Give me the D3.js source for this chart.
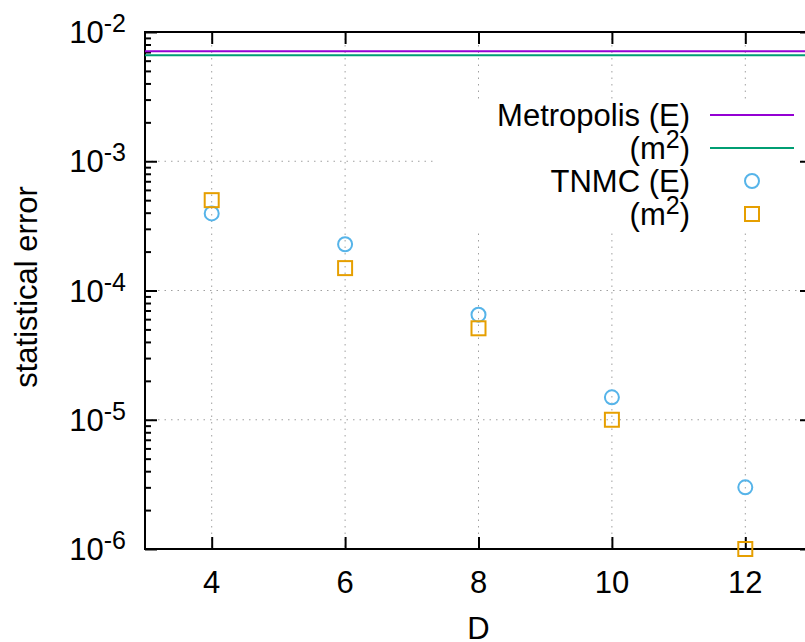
<!DOCTYPE html>
<html>
<head>
<meta charset="utf-8">
<script src="https://cdn.jsdelivr.net/npm/d3@7"></script>
<style>
  html, body { margin: 0; padding: 0; background: #fff; }
  svg { display: block; font-family: "Liberation Sans", Arial, Helvetica, sans-serif; }
</style>
</head>
<body>
<div id="grafico"></div>
<script>
// datos
const dims = [4, 6, 8, 10, 12];
const tnmcE = [3.95e-4, 2.28e-4, 6.5e-5, 1.49e-5, 3.0e-6];
const tnmcM2 = [5.0e-4, 1.49e-4, 5.1e-5, 1.0e-5, 1.0e-6];
const metropolisE = 7.1e-3;
const metropolisM2 = 6.6e-3;
const xTicks = [4, 6, 8, 10, 12];
const yExps = [-2, -3, -4, -5, -6];

const width = 805;
const height = 642;
const mLeft = 145, mRight = 812, mTop = 32, mBottom = 549;
const fs = "31px", fsSup = "25px";

const svg = d3.select("#grafico")
  .append("svg")
  .attr("width", width)
  .attr("height", height);

const x = d3.scaleLinear().domain([3, 13]).range([mLeft, mRight]);
const y = d3.scaleLog().domain([1e-6, 1e-2]).range([mBottom, mTop]);

// grid punteado
const grid = svg.append("g")
  .attr("stroke", "#a0a0a0")
  .attr("stroke-width", 1)
  .attr("stroke-dasharray", "1.5,5");
grid.selectAll("line.gx")
  .data(xTicks)
  .join("line")
  .attr("class", "gx")
  .attr("x1", d => x(d)).attr("x2", d => x(d))
  .attr("y1", mTop).attr("y2", mBottom);
grid.selectAll("line.gy")
  .data(yExps.slice(1, -1))
  .join("line")
  .attr("class", "gy")
  .attr("x1", mLeft).attr("x2", mRight)
  .attr("y1", d => y(Math.pow(10, d))).attr("y2", d => y(Math.pow(10, d)));

// ejes con ticks hacia dentro
const minor = [];
for (let e = -6; e < -2; e++) {
  for (let k = 2; k <= 9; k++) minor.push(k * Math.pow(10, e));
}
const majorY = yExps.map(e => Math.pow(10, e));

const axes = svg.append("g");
axes.append("g")
  .attr("transform", `translate(0,${mBottom})`)
  .call(d3.axisBottom(x).tickValues(xTicks).tickSizeInner(-12).tickSizeOuter(0).tickFormat(""));
axes.append("g")
  .attr("transform", `translate(0,${mTop})`)
  .call(d3.axisTop(x).tickValues(xTicks).tickSizeInner(-12).tickSizeOuter(0).tickFormat(""));
axes.append("g")
  .attr("transform", `translate(${mLeft},0)`)
  .call(d3.axisLeft(y).tickValues(majorY).tickSizeInner(-12).tickSizeOuter(0).tickFormat(""));
axes.append("g")
  .attr("transform", `translate(${mLeft},0)`)
  .call(d3.axisLeft(y).tickValues(minor).tickSizeInner(-6).tickSizeOuter(0).tickFormat(""));
axes.append("g")
  .attr("transform", `translate(${mRight},0)`)
  .call(d3.axisRight(y).tickValues(majorY).tickSizeInner(-12).tickSizeOuter(0).tickFormat(""));
axes.append("g")
  .attr("transform", `translate(${mRight},0)`)
  .call(d3.axisRight(y).tickValues(minor).tickSizeInner(-6).tickSizeOuter(0).tickFormat(""));
axes.selectAll(".domain").remove();
axes.selectAll("line").attr("stroke", "#000").attr("stroke-width", 2);

// marco
svg.append("rect")
  .attr("x", mLeft).attr("y", mTop)
  .attr("width", mRight - mLeft).attr("height", mBottom - mTop)
  .attr("fill", "none")
  .attr("stroke", "#000")
  .attr("stroke-width", 2);

// etiquetas eje x
svg.append("g")
  .selectAll("text")
  .data(xTicks)
  .join("text")
  .attr("x", d => x(d))
  .attr("y", mBottom + 44)
  .attr("text-anchor", "middle")
  .style("font-size", fs)
  .text(d => d);

// etiquetas eje y: 10^e
const yl = svg.append("g")
  .selectAll("text")
  .data(yExps)
  .join("text")
  .attr("x", 126)
  .attr("y", d => y(Math.pow(10, d)) + 11)
  .attr("text-anchor", "end")
  .style("font-size", fs);
yl.append("tspan").text("10");
yl.append("tspan")
  .attr("dy", -11)
  .style("font-size", fsSup)
  .text(d => d);

svg.append("text")
  .attr("transform", `translate(37,287) rotate(-90)`)
  .attr("text-anchor", "middle")
  .style("font-size", fs)
  .text("statistical error");

svg.append("text")
  .attr("x", x(8))
  .attr("y", 639)
  .attr("text-anchor", "middle")
  .style("font-size", fs)
  .text("D");

// lineas Metropolis
const series = [
  { val: metropolisE, color: "#9400d3" },
  { val: metropolisM2, color: "#009e73" }
];
svg.append("g")
  .selectAll("line")
  .data(series)
  .join("line")
  .attr("x1", mLeft).attr("x2", mRight)
  .attr("y1", d => y(d.val)).attr("y2", d => y(d.val))
  .attr("stroke", d => d.color)
  .attr("stroke-width", 2);

// leyenda (caja opaca)
svg.append("rect")
  .attr("x", 437).attr("y", 99)
  .attr("width", mRight - 437 - 14).attr("height", 133)
  .attr("fill", "#fff");

const leyendas = [
  { texto: "Metropolis (E)", tipo: "line", color: "#9400d3" },
  { texto: "(m", sup: "2", tipo: "line", color: "#009e73" },
  { texto: "TNMC (E)", tipo: "circle", color: "#56b4e9" },
  { texto: "(m", sup: "2", tipo: "square", color: "#e69f00" }
];
const leyenda = svg.append("g");
leyenda.selectAll("g")
  .data(leyendas)
  .join("g")
  .attr("transform", (d, i) => `translate(0, ${115 + i * 33})`)
  .each(function (d) {
    const g = d3.select(this);
    const t = g.append("text")
      .attr("x", 690)
      .attr("y", 11)
      .attr("text-anchor", "end")
      .style("font-size", fs);
    t.append("tspan").text(d.texto);
    if (d.sup) {
      t.append("tspan").attr("dy", -11).style("font-size", fsSup).text(d.sup);
      t.append("tspan").attr("dy", 11).text(")");
    }
    if (d.tipo === "line") {
      g.append("line")
        .attr("x1", 710).attr("x2", 794)
        .attr("stroke", d.color).attr("stroke-width", 2);
    } else if (d.tipo === "circle") {
      g.append("circle")
        .attr("cx", 752).attr("r", 7)
        .attr("fill", "none").attr("stroke", d.color).attr("stroke-width", 2);
    } else {
      g.append("rect")
        .attr("x", 745).attr("y", -7).attr("width", 14).attr("height", 14)
        .attr("fill", "none").attr("stroke", d.color).attr("stroke-width", 2);
    }
  });

// puntos TNMC
const puntos = svg.append("g");
puntos.selectAll("circle")
  .data(dims.map((d, i) => ({ d, v: tnmcE[i] })))
  .join("circle")
  .attr("cx", p => x(p.d))
  .attr("cy", p => y(p.v))
  .attr("r", 7)
  .attr("fill", "none")
  .attr("stroke", "#56b4e9")
  .attr("stroke-width", 2);
puntos.selectAll("rect")
  .data(dims.map((d, i) => ({ d, v: tnmcM2[i] })))
  .join("rect")
  .attr("x", p => x(p.d) - 7)
  .attr("y", p => y(p.v) - 7)
  .attr("width", 14)
  .attr("height", 14)
  .attr("fill", "none")
  .attr("stroke", "#e69f00")
  .attr("stroke-width", 2);
</script>
</body>
</html>
